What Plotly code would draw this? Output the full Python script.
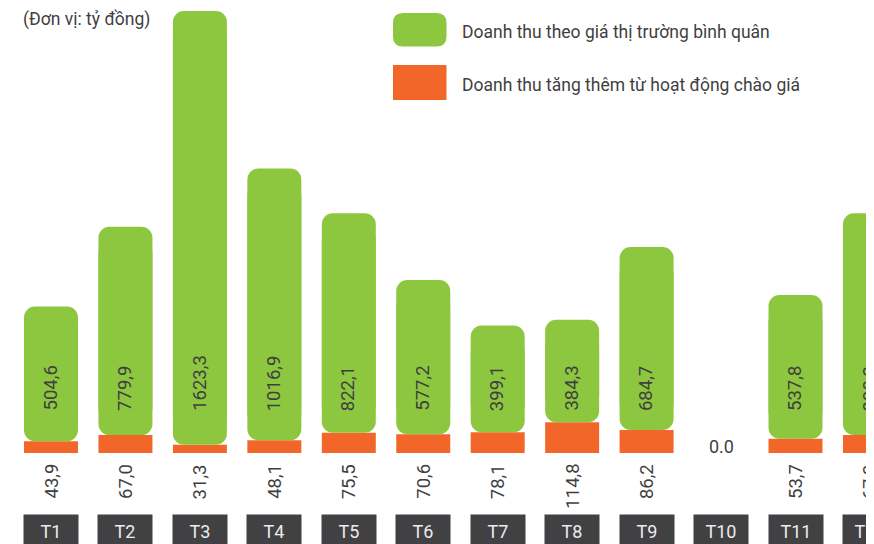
import plotly.graph_objects as go

# ---- data ----
months = ["T1", "T2", "T3", "T4", "T5", "T6", "T7", "T8", "T9", "T10", "T11", "T12"]
market_revenue = [504.6, 779.9, 1623.3, 1016.9, 822.1, 577.2, 399.1, 384.3, 684.7, 0.0, 537.8, 830.2]
bid_revenue = [43.9, 67.0, 31.3, 48.1, 75.5, 70.6, 78.1, 114.8, 86.2, 0.0, 53.7, 67.2]
series_names = ["Doanh thu theo giá thị trường bình quân", "Doanh thu tăng thêm từ hoạt động chào giá"]
unit_label = "(Đơn vị: tỷ đồng)"

GREEN = "#8dc63f"
ORANGE = "#f26729"
TEXT = "#3f3f3f"
BOX = "#414042"
FONT = "Roboto"

OFF = 8                   # page body margin
W, H = 874 - OFF, 544 - OFF
BASE_PX = 453.0 - OFF     # pixel row of the zero line (figure coords)
K = 0.2671                # pixels per unit
STEP = 74.45              # pixels per category
C0 = 51.0 - OFF           # centre of first category
y_min = -(H - BASE_PX) / K
y_max = BASE_PX / K

def px(x):
    return (x - OFF) / W

def py(y):
    return 1 - (y - OFF) / H

def fmt(v):
    return f"{v:.1f}".replace(".", ",")

fig = go.Figure()

# orange bars (bottom)
fig.add_trace(go.Bar(x=months, y=bid_revenue, marker=dict(color=ORANGE, line=dict(width=0)),
                     width=0.725, name=series_names[1], showlegend=False, hoverinfo="skip"))

# green bars: two largely overlapping pieces so that all four corners are rounded
INSET = 60
fig.add_trace(go.Bar(x=months, y=[(g - INSET) if g > 0 else 0 for g in market_revenue],
                     base=[o + INSET if g > 0 else o for o, g in zip(bid_revenue, market_revenue)],
                     marker=dict(color=GREEN, line=dict(width=0), cornerradius=11),
                     width=0.725, name=series_names[0], showlegend=False, hoverinfo="skip"))
fig.add_trace(go.Bar(x=months, y=[-(g - INSET) if g > 0 else 0 for g in market_revenue],
                     base=[o + g - INSET if g > 0 else o for o, g in zip(bid_revenue, market_revenue)],
                     marker=dict(color=GREEN, line=dict(width=0), cornerradius=11),
                     width=0.725, showlegend=False, hoverinfo="skip"))

annotations = []
for m, g, o in zip(months, market_revenue, bid_revenue):
    if g == 0 and o == 0:
        annotations.append(dict(x=m, y=26, xref="x", yref="y", text="0.0", showarrow=False,
                                font=dict(family=FONT, size=18, color=TEXT), yanchor="middle"))
    else:
        annotations.append(dict(x=m, y=150, xref="x", yref="y", text=fmt(g), showarrow=False,
                                textangle=-90, yanchor="bottom",
                                font=dict(family=FONT, size=18.5, color=TEXT)))
        annotations.append(dict(x=m, y=-33.7, xref="x", yref="y", text=fmt(o), showarrow=False,
                                textangle=-90, yanchor="top",
                                font=dict(family=FONT, size=18.5, color=TEXT)))
    # month box
    annotations.append(dict(x=m, y=py(514), xref="x", yref="paper", text=m, showarrow=False,
                            yanchor="top", bgcolor=BOX, width=52, height=30, borderpad=1,
                            font=dict(family=FONT, size=18, color="#ececec")))

# unit label
annotations.append(dict(x=px(21), y=py(20), xref="paper", yref="paper", text=unit_label,
                        showarrow=False, xanchor="left", yanchor="middle",
                        font=dict(family=FONT, size=17.5, color=TEXT)))
# legend texts
annotations.append(dict(x=px(460), y=py(32), xref="paper", yref="paper", text=series_names[0],
                        showarrow=False, xanchor="left", yanchor="middle",
                        font=dict(family=FONT, size=17.5, color=TEXT)))
annotations.append(dict(x=px(460), y=py(85), xref="paper", yref="paper", text=series_names[1],
                        showarrow=False, xanchor="left", yanchor="middle",
                        font=dict(family=FONT, size=17.5, color=TEXT)))

def rrect(x0, y0, x1, y1, r):
    # screen-pixel coords -> paper coords path with rounded corners
    return (f"M{px(x0 + r)},{py(y0)} L{px(x1 - r)},{py(y0)} Q{px(x1)},{py(y0)} {px(x1)},{py(y0 + r)} "
            f"L{px(x1)},{py(y1 - r)} Q{px(x1)},{py(y1)} {px(x1 - r)},{py(y1)} "
            f"L{px(x0 + r)},{py(y1)} Q{px(x0)},{py(y1)} {px(x0)},{py(y1 - r)} "
            f"L{px(x0)},{py(y0 + r)} Q{px(x0)},{py(y0)} {px(x0 + r)},{py(y0)} Z")

shapes = [
    dict(type="path", xref="paper", yref="paper", path=rrect(393, 13, 446.5, 46.5, 10),
         fillcolor=GREEN, line=dict(width=0)),
    dict(type="rect", xref="paper", yref="paper", x0=px(393), x1=px(446.5),
         y0=py(100), y1=py(65), fillcolor=ORANGE, line=dict(width=0)),
]

fig.update_layout(
    width=W, height=H,
    margin=dict(l=0, r=0, t=0, b=0, pad=0),
    paper_bgcolor="white", plot_bgcolor="white",
    barmode="overlay",
    xaxis=dict(range=[-C0 / STEP, (W - C0) / STEP], visible=False, fixedrange=True),
    yaxis=dict(range=[y_min, y_max], visible=False, fixedrange=True),
    annotations=annotations,
    shapes=shapes,
    showlegend=False,
    font=dict(family=FONT),
)

fig.write_html("out.html")
